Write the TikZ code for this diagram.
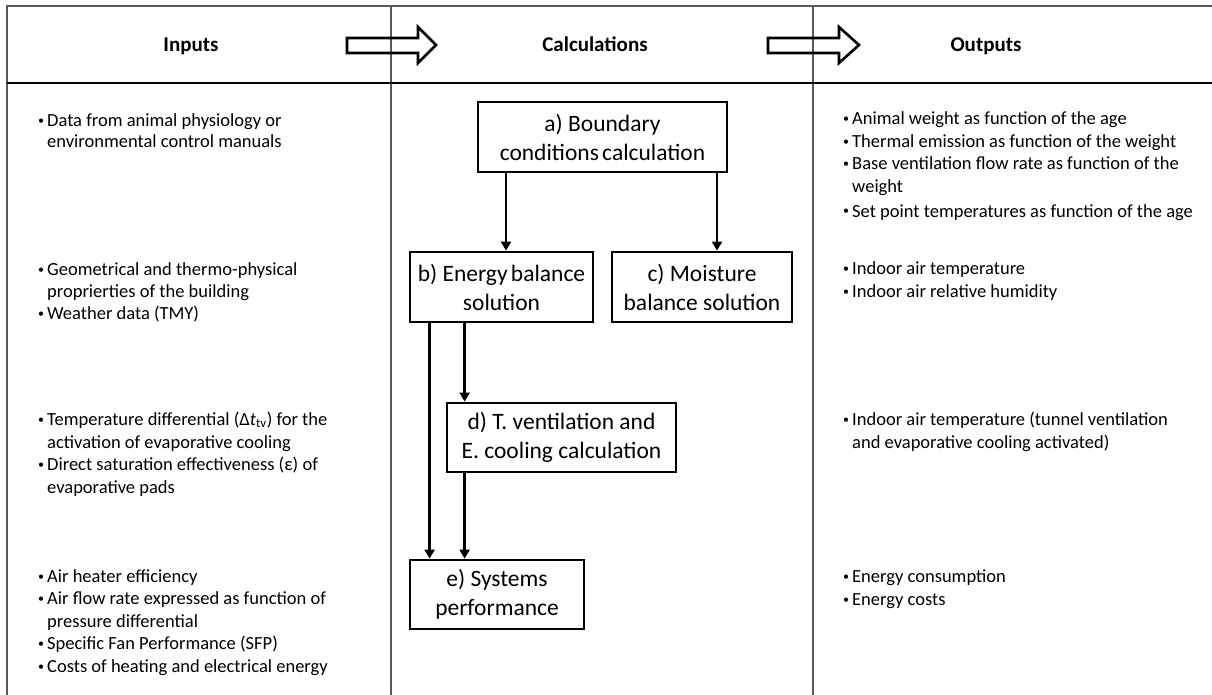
\documentclass[tikz,border=0pt]{standalone}
\usepackage{fontspec}
\setmainfont{Carlito}
\usetikzlibrary{arrows.meta}
\newcommand\bitem{\makebox[9pt][l]{\fontsize{12}{12}\selectfont\raisebox{2pt}{•}}}
\newcommand\bcont{\hspace*{9pt}}
\tikzset{
 txt/.style={anchor=base west, inner sep=0, font=\fontsize{18.5}{23}\selectfont},
 box/.style={draw, line width=2.8pt, align=center, font=\fontsize{23.5}{29}\selectfont, inner sep=0},
 arr/.style={line width=2.8pt, -{Triangle[length=9pt,width=10pt]}},
 head/.style={font=\fontsize{21}{25}\selectfont\bfseries, anchor=base, inner sep=0},
 frame/.style={line width=1.4pt, black!65},
 hline/.style={line width=2pt, black},
 barrow/.style={line width=2.6pt, line join=miter}
}
\begin{document}
\begin{tikzpicture}[x=1pt,y=-1pt]
\useasboundingbox (0,0) rectangle (1212,695);
% frame
\coordinate (tl) at (7,6);
\coordinate (tr) at (1212,6);
\coordinate (bl) at (7,695);
\coordinate (hl) at (7,83);
\coordinate (hr) at (1212,83);
\coordinate (c1t) at (391,6);
\coordinate (c1b) at (391,695);
\coordinate (c2t) at (813,6);
\coordinate (c2b) at (813,695);
\draw[frame] (tr) -- (tl) -- (bl);
\draw[frame] (c1t) -- (c1b);
\draw[frame] (c2t) -- (c2b);
\draw[hline] (hl) -- (hr);
% headers
\node[head] (hin) at (191,52) {Inputs};
\node[head] (hcalc) at (595,52) {Calculations};
\node[head] (hout) at (986,52) {Outputs};
% block arrows
\draw[barrow] (347,38) -- (418,38) -- (418,27) -- (436,45) -- (418,63) -- (418,53) -- (347,53) -- cycle;
\draw[barrow] (768,38) -- (839,38) -- (839,27) -- (859,45) -- (839,63) -- (839,53) -- (768,53) -- cycle;
% left column
\foreach \n/\y/\t in {
 l1/127/{\bitem Data from animal physiology or},
 l2/148/{\bcont environmental control manuals},
 l3/275/{\bitem Geometrical and thermo-physical},
 l4/297/{\bcont proprierties of the building},
 l5/319/{\bitem Weather data (TMY)},
 l6/425/{\bitem Temperature differential (Δ\textit{t}\textsubscript{tv}) for the},
 l7/448/{\bcont activation of evaporative cooling},
 l8/470/{\bitem Direct saturation effectiveness (ε) of},
 l9/493/{\bcont evaporative pads},
 l10/582/{\bitem Air heater efficiency},
 l11/604/{\bitem Air flow rate expressed as function of},
 l12/627/{\bcont pressure differential},
 l13/649/{\bitem Specific Fan Performance (SFP)},
 l14/672/{\bitem Costs of heating and electrical energy}}
 {\node[txt] (\n) at (38,\y) {\t};}
% right column
\foreach \n/\y/\t in {
 r1/125/{\bitem Animal weight as function of the age},
 r2/148/{\bitem Thermal emission as function of the weight},
 r3/170/{\bitem Base ventilation flow rate as function of the},
 r4/193/{\bcont weight},
 r5/217/{\bitem Set point temperatures as function of the age},
 r6/274/{\bitem Indoor air temperature},
 r7/297/{\bitem Indoor air relative humidity},
 r8/425/{\bitem Indoor air temperature (tunnel ventilation},
 r9/448/{\bcont and evaporative cooling activated)},
 r10/582/{\bitem Energy consumption},
 r11/605/{\bitem Energy costs}}
 {\node[txt] (\n) at (843,\y) {\t};}
% boxes
\node[box, minimum width=249pt, minimum height=70pt] (a) at (602.5,137) {a) Boundary\\conditions\hspace{-2pt} calculation};
\node[box, minimum width=183pt, minimum height=70pt] (b) at (501.5,287) {b) Energy\hspace{-2pt} balance\\solution};
\node[box, minimum width=180pt, minimum height=70pt] (c) at (702,287) {c) Moisture\\balance solution};
\node[box, minimum width=229pt, minimum height=69pt] (d) at (561.5,437.5) {d) T. ventilation and\\E. cooling calculation};
\node[box, minimum width=174pt, minimum height=69pt] (e) at (497,594.5) {e) Systems\\performance};
% connectors
\draw[arr] ([xshift=4.5pt]b.north |- a.south) -- ([xshift=4.5pt]b.north);
\draw[arr] ([xshift=15pt]c.north |- a.south) -- ([xshift=15pt]c.north);
\draw[arr] ([xshift=19pt]d.north west |- b.south) -- ([xshift=19pt]d.north west);
\draw[arr] ([xshift=21pt]b.south west) -- ([xshift=21pt]e.north west);
\draw[arr] ([xshift=19pt]d.south west) -- ([xshift=19pt]d.south west |- e.north);
\end{tikzpicture}
\end{document}
